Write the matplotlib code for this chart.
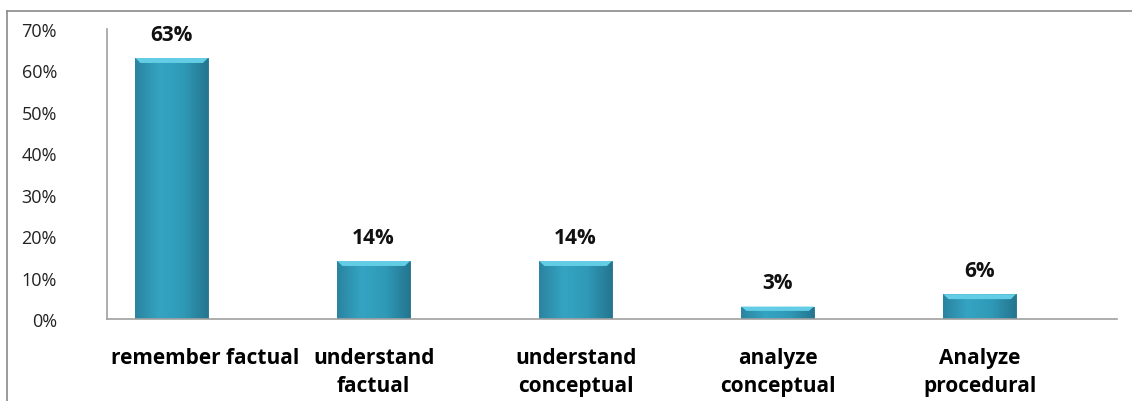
import matplotlib.pyplot as plt
import numpy as np
from matplotlib.colors import LinearSegmentedColormap
from matplotlib.ticker import FuncFormatter
from matplotlib.lines import Line2D

categories = ["remember factual", "understand\nfactual", "understand\nconceptual",
              "analyze\nconceptual", "Analyze\nprocedural"]
values = [63, 14, 14, 3, 6]
yticks = [0, 10, 20, 30, 40, 50, 60, 70]

plt.rcParams['font.family'] = ['Open Sans', 'DejaVu Sans']

fig = plt.figure(figsize=(11.32, 4.02), dpi=100)
ax = fig.add_axes([107 / 1132, 1 - 320 / 402, 1010 / 1132, 290 / 402])

x = np.arange(len(categories))
bars = ax.bar(x, values, width=0.36, color="#2e96b4", edgecolor="#1f6f86", linewidth=0.6, zorder=2)

# soft horizontal shading inside each bar plus a lighter bevel on top
shade = LinearSegmentedColormap.from_list("shade", ["#2b84a1", "#34a4c2", "#2f9ab8", "#257690"])
grad = np.linspace(0, 1, 64).reshape(1, -1)
for b, v in zip(bars, values):
    x0, w, h = b.get_x(), b.get_width(), b.get_height()
    im = ax.imshow(grad, cmap=shade, extent=[x0, x0 + w, 0, h], aspect="auto", zorder=2.1)
    im.set_clip_path(b)
    bev = min(1.2, h * 0.35)
    ax.fill([x0, x0 + w, x0 + w * 0.93, x0 + w * 0.07], [h, h, h - bev, h - bev],
            color="#62cde4", zorder=2.2, lw=0)
    ax.text(x0 + w / 2, h + 3.2, f"{v}%", ha="center", va="bottom",
            fontsize=15, fontweight="bold", color="#111111")

ax.set_xlim(-0.32, len(categories) - 1 + 0.68)
ax.set_ylim(0, 70)
ax.set_yticks(yticks)
ax.yaxis.set_major_formatter(FuncFormatter(lambda v, p: f"{int(v)}%"))
ax.tick_params(axis="y", length=0, labelsize=13, pad=36, colors="#222222")
ax.set_xticks(x)
# the first label is pushed right of its bar in the original, so draw it separately
ax.set_xticklabels([""] + categories[1:], fontsize=15, fontweight="bold", linespacing=1.45)
ax.tick_params(axis="x", length=0, pad=20)
ax.annotate(categories[0], xy=(x[0], 0), xycoords=("data", "axes fraction"),
            xytext=(33, -28), textcoords="offset pixels", ha="center", va="top",
            fontsize=15, fontweight="bold", annotation_clip=False)

for s in ["top", "right"]:
    ax.spines[s].set_visible(False)
for s in ["left", "bottom"]:
    ax.spines[s].set_color("#a0a0a0")
    ax.spines[s].set_linewidth(1.2)

# outer chart frame (partially visible in the original)
fig.add_artist(Line2D([7 / 1132, 7 / 1132], [0, 1 - 12 / 402], color="#8a8a8a", lw=1.2))
fig.add_artist(Line2D([7 / 1132, 1], [1 - 12 / 402, 1 - 12 / 402], color="#8a8a8a", lw=1.2))

fig.savefig("out.png", dpi=100)
